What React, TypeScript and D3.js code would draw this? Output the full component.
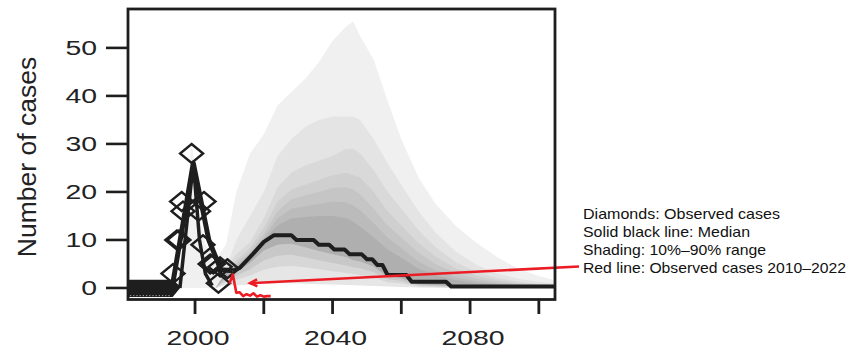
import React from "react";
import * as d3 from "d3";

// ---------- data ----------
const xDomain = [1980.5, 2104.7];
const yDomain = [-2.4, 58.1];
const xTicks = [2000, 2020, 2040, 2060, 2080, 2100];
const xTickLabels = ["2000", "", "2040", "", "2080", ""];
const yTicks = [0, 10, 20, 30, 40, 50];
const yTickLabels = ["0", "10", "20", "30", "40", "50"];
const yTitle = "Number of cases";

// zero-case period before the outbreak (drawn as a solid block)
const zeroYears = [1980.5, 1993.5, 1995.9];
const zeroBand = [-1.9, 1.7, 0.2];

// median of simulations
const medianYears = [1993.3, 1999.5, 2004, 2007.5, 2011, 2013, 2017, 2020, 2023, 2028, 2029.5, 2034.5, 2036, 2039, 2040.5, 2043.5, 2045, 2048.5, 2050, 2051.5, 2053, 2054.5, 2056, 2061.5, 2063, 2073, 2074.5, 2104.7];
const medianCases = [0, 26, 10, 3.8, 3.6, 4.2, 7.2, 9.6, 11, 11, 10, 10, 9, 9, 8, 8, 7, 7, 6, 6, 4.8, 4.8, 2.7, 2.7, 1.3, 1.3, 0.3, 0.3];
// second (inner) simulated line during the first outbreak
const innerYears = [1995.6, 1999.5, 2001.3, 2003, 2005];
const innerCases = [0, 26, 10, 3, 0.5];

// observed cases (diamonds)
const obsYears = [1993.6, 1994.7, 1995.3, 1996.1, 1996.5, 1999.0, 2001.0, 2002.6, 2002.3, 2004.4, 2005.3, 2006.8, 2007.3, 2009.4];
const obsCases = [3, 10, 10, 18, 16, 28, 16, 18, 9, 5, 5, 1, 4.4, 4];

// observed cases 2010-2022 (red)
const redYears = [2010, 2011, 2012, 2013, 2014, 2015, 2016, 2017, 2018, 2019, 2020, 2021, 2022];
const redCases = [0.9, 2.8, -1.0, -0.9, -1.7, -1.3, -1.6, -1.1, -1.8, -1.5, -1.8, -1.7, -1.7];
const arrowTip = [2016, 1.0];

// simulation quantiles (shading)
const fanYears = [1992, 1995, 1997, 1999, 2001, 2003, 2006, 2009, 2012, 2016, 2020, 2024, 2028, 2032, 2036, 2040, 2044, 2046, 2048, 2052, 2056, 2060, 2065, 2070, 2076, 2082, 2088, 2094, 2100, 2104.7];
const q90 = [0, 2, 12, 31, 16, 9, 6, 9, 20, 28, 32, 38, 40.8, 43.5, 47, 51.5, 54.5, 55.5, 52.5, 47.5, 39, 31, 23, 17.5, 12.8, 9.3, 6.4, 4, 2.5, 1.6];
const q80 = [0, 0, 0, 0, 0, 0, 0, 4, 10, 15, 20, 27.5, 31, 33.5, 35, 35.7, 35.7, 35.7, 35, 31, 26, 21.5, 16, 11.5, 7.5, 4.8, 3, 1.9, 1.3, 1];
const q75 = [0, 0, 0, 0, 0, 0, 0, 3.7, 7, 9.5, 14.5, 21, 24, 25.5, 26.5, 27.5, 29, 29, 28, 24.5, 20, 16.5, 12, 8.5, 5.3, 3.3, 2.1, 1.3, 0.9, 0.75];
const q70 = [0, 0, 0, 0, 0, 0, 0, 3.5, 5.8, 8.3, 12.5, 18, 20.5, 21.5, 22.5, 23.5, 24, 23.5, 23, 20, 16, 13, 9.3, 6.5, 4, 2.5, 1.6, 1, 0.7, 0.6];
const q65 = [0, 0, 0, 0, 0, 0, 0, 3.3, 5.1, 7.5, 11.2, 16, 18.5, 19.3, 20, 20.8, 21, 20.5, 19.5, 16.5, 13, 10.5, 7.3, 5, 3, 1.9, 1.2, 0.8, 0.55, 0.5];
const q60 = [0, 0, 0, 0, 0, 0, 0, 3.1, 4.6, 7, 10.4, 14.5, 16.5, 17, 17.5, 18, 17.8, 17.2, 16.2, 13.5, 10.5, 8.3, 5.5, 3.7, 2.2, 1.4, 0.9, 0.6, 0.45, 0.4];
const q55 = [0, 0, 0, 0, 0, 0, 0, 3, 4.3, 6.7, 10, 13, 14.5, 14.8, 15, 15, 14.5, 13.8, 12.8, 10.5, 8, 6.3, 4, 2.7, 1.6, 1, 0.7, 0.45, 0.35, 0.3];
const q40 = [0, 0, 0, 0, 0, 0, 0, 2.4, 3.2, 5.2, 7.8, 9, 9.2, 8.5, 7.7, 7, 6.4, 5.8, 5.5, 4.4, 2.3, 2.0, 0.8, 0.6, 0.25, 0.2, 0.15, 0.1, 0.1, 0.1];
const q30 = [0, 0, 0, 0, 0, 0, 0, 1.8, 2.5, 3.9, 5.8, 6.7, 6.9, 6.4, 5.8, 5.2, 4.7, 4.3, 4.1, 3.3, 1.8, 1.5, 0.5, 0.4, 0.15, 0.1, 0.05, 0, 0, 0];
const q20 = [0, 0, 0, 0, 0, 0, 0, 1.2, 1.7, 2.6, 3.8, 4.4, 4.6, 4.3, 3.9, 3.5, 3.1, 2.9, 2.7, 2.2, 1.2, 1, 0.3, 0.2, 0.1, 0, 0, 0, 0, 0];
const q10 = [0, 0, 0, 0, 0, 0, 0, 0.6, 0.5, 0.7, 0.9, 1, 1, 0.9, 0.8, 0.7, 0.6, 0.55, 0.5, 0.4, 0.3, 0.2, 0.1, 0.05, 0, 0, 0, 0, 0, 0];

const legendLines = [
  "Diamonds: Observed cases",
  "Solid black line: Median",
  "Shading: 10%\u201390% range",
  "Red line: Observed cases 2010\u20132022",
];

// ---------- styles ----------
const FONT = "'Liberation Sans', Arial, Helvetica, sans-serif";
const RED = "#ec1c24";
const INK = "#1e1e1e";
const legendWidths = [197, 167, 183, 263];

export default function App() {
  const left = 128, right = 555, top = 9, bottom = 299.5;
  const x = d3.scaleLinear().domain(xDomain).range([left, right]);
  const y = d3.scaleLinear().domain(yDomain).range([bottom, top]);

  const band = (lo: number[], hi: number[]) =>
    d3
      .area<number>()
      .x((d) => x(d))
      .y0((_, i) => y(lo[i]))
      .y1((_, i) => y(hi[i]))(fanYears) as string;

  const bands = [
    { lo: q40, hi: q90, fill: "#f0f0f0" },
    { lo: q40, hi: q80, fill: "#e4e4e4" },
    { lo: q40, hi: q75, fill: "#d9d9d9" },
    { lo: q40, hi: q70, fill: "#cfcfcf" },
    { lo: q40, hi: q65, fill: "#c5c5c5" },
    { lo: q40, hi: q60, fill: "#bbbbbb" },
    { lo: q10, hi: q40, fill: "#e6e6e6" },
    { lo: q20, hi: q40, fill: "#d7d7d7" },
    { lo: q30, hi: q40, fill: "#c8c8c8" },
    { lo: q40, hi: q55, fill: "#afafaf" },
  ];

  const line = d3
    .line<[number, number]>()
    .x((d) => x(d[0]))
    .y((d) => y(d[1]));

  const medianPts: [number, number][] = medianYears.map((yr, i) => [yr, medianCases[i]]);
  const medianEarly = medianPts.filter((d) => d[0] <= 2011);
  const medianLate = medianPts.filter((d) => d[0] >= 2011);
  const innerPts: [number, number][] = innerYears.map((yr, i) => [yr, innerCases[i]]);
  const redPts: [number, number][] = redYears.map((yr, i) => [yr, redCases[i]]);

  const zeroPath =
    `M${x(zeroYears[0])},${y(zeroBand[1])}` +
    `L${x(zeroYears[1])},${y(zeroBand[1])}` +
    `L${x(zeroYears[2])},${y(zeroBand[2])}` +
    `L${x(zeroYears[1])},${y(zeroBand[0])}` +
    `L${x(zeroYears[0])},${y(zeroBand[0])}Z`;

  const diamond = (cx: number, cy: number) =>
    `M${cx},${cy - 9.5}L${cx + 11.5},${cy}L${cx},${cy + 9.5}L${cx - 11.5},${cy}Z`;

  // annotation arrow
  const ax0 = 579, ay0 = 266.5;
  const tx = x(arrowTip[0]), ty = y(arrowTip[1]);
  const ang = Math.atan2(ty - ay0, tx - ax0);
  const hl = 8, spread = 0.45;
  const b1 = [tx - hl * Math.cos(ang - spread), ty - hl * Math.sin(ang - spread)];
  const b2 = [tx - hl * Math.cos(ang + spread), ty - hl * Math.sin(ang + spread)];

  const digitW = 15.8;

  return (
    <svg
      width={850}
      height={352}
      viewBox="0 0 850 352"
      style={{ position: "absolute", left: 0, top: 0, display: "block", background: "#fff" }}
    >
      <defs>
        <clipPath id="plotClip">
          <rect x={left} y={top} width={right - left} height={bottom - top} />
        </clipPath>
      </defs>

      <g clipPath="url(#plotClip)">
        {bands.map((b, i) => (
          <path key={i} d={band(b.lo, b.hi)} fill={b.fill} stroke="none" />
        ))}

        {/* zero-case block */}
        <path d={zeroPath} fill={INK} />
        <line
          x1={x(zeroYears[0]) + 2}
          x2={x(zeroYears[1]) - 2}
          y1={y(-1.6)}
          y2={y(-1.6)}
          stroke="#ffffff"
          strokeWidth={0.8}
          strokeDasharray="1.2,2"
          opacity={0.8}
        />

        {/* median */}
        <path d={line(medianEarly) as string} fill="none" stroke={INK} strokeWidth={5} strokeLinejoin="round" />
        <path d={line(innerPts) as string} fill="none" stroke={INK} strokeWidth={3.5} strokeLinejoin="round" />
        <path d={line(medianLate) as string} fill="none" stroke={INK} strokeWidth={4} strokeLinejoin="round" />

        {/* observed diamonds */}
        {obsYears.map((yr, i) => (
          <path key={i} d={diamond(x(yr), y(obsCases[i]))} fill="none" stroke={INK} strokeWidth={2.4} />
        ))}

        {/* red observed 2010-2022 */}
        <path d={line(redPts) as string} fill="none" stroke={RED} strokeWidth={2.6} strokeLinejoin="round" />
      </g>

      {/* arrow */}
      <line x1={ax0} y1={ay0} x2={tx} y2={ty} stroke={RED} strokeWidth={2.6} />
      <path d={`M${b1[0]},${b1[1]}L${tx},${ty}L${b2[0]},${b2[1]}`} fill="none" stroke={RED} strokeWidth={2.6} />

      {/* frame */}
      <rect x={left} y={top} width={right - left} height={bottom - top} fill="none" stroke={INK} strokeWidth={2.8} />

      {/* y axis */}
      {yTicks.map((t, i) => (
        <g key={t}>
          <line x1={106} x2={left} y1={y(t)} y2={y(t)} stroke={INK} strokeWidth={2.6} />
          <text
            x={97 - digitW * yTickLabels[i].length}
            y={y(t) + 7}
            fontFamily={FONT}
            fontSize={20}
            fill="#222"
            textLength={digitW * yTickLabels[i].length}
            lengthAdjust="spacingAndGlyphs"
          >
            {yTickLabels[i]}
          </text>
        </g>
      ))}
      <text
        transform={`translate(36,157) rotate(-90)`}
        textAnchor="middle"
        fontFamily={FONT}
        fontSize={26.5}
        fill="#222"
      >
        {yTitle}
      </text>

      {/* x axis */}
      {xTicks.map((t, i) => (
        <g key={t}>
          <line x1={x(t)} x2={x(t)} y1={bottom} y2={314} stroke={INK} strokeWidth={2.8} />
          {xTickLabels[i] && (
            <text
              x={x(t) + 3 - (digitW * xTickLabels[i].length) / 2}
              y={345}
              fontFamily={FONT}
              fontSize={21}
              fill="#222"
              textLength={digitW * xTickLabels[i].length}
              lengthAdjust="spacingAndGlyphs"
            >
              {xTickLabels[i]}
            </text>
          )}
        </g>
      ))}

      {/* legend text */}
      {legendLines.map((s, i) => (
        <text
          key={i}
          x={583}
          y={219 + i * 18}
          fontFamily={FONT}
          fontSize={14.5}
          fill="#111"
          textLength={legendWidths[i]}
          lengthAdjust="spacingAndGlyphs"
        >
          {s}
        </text>
      ))}
    </svg>
  );
}
